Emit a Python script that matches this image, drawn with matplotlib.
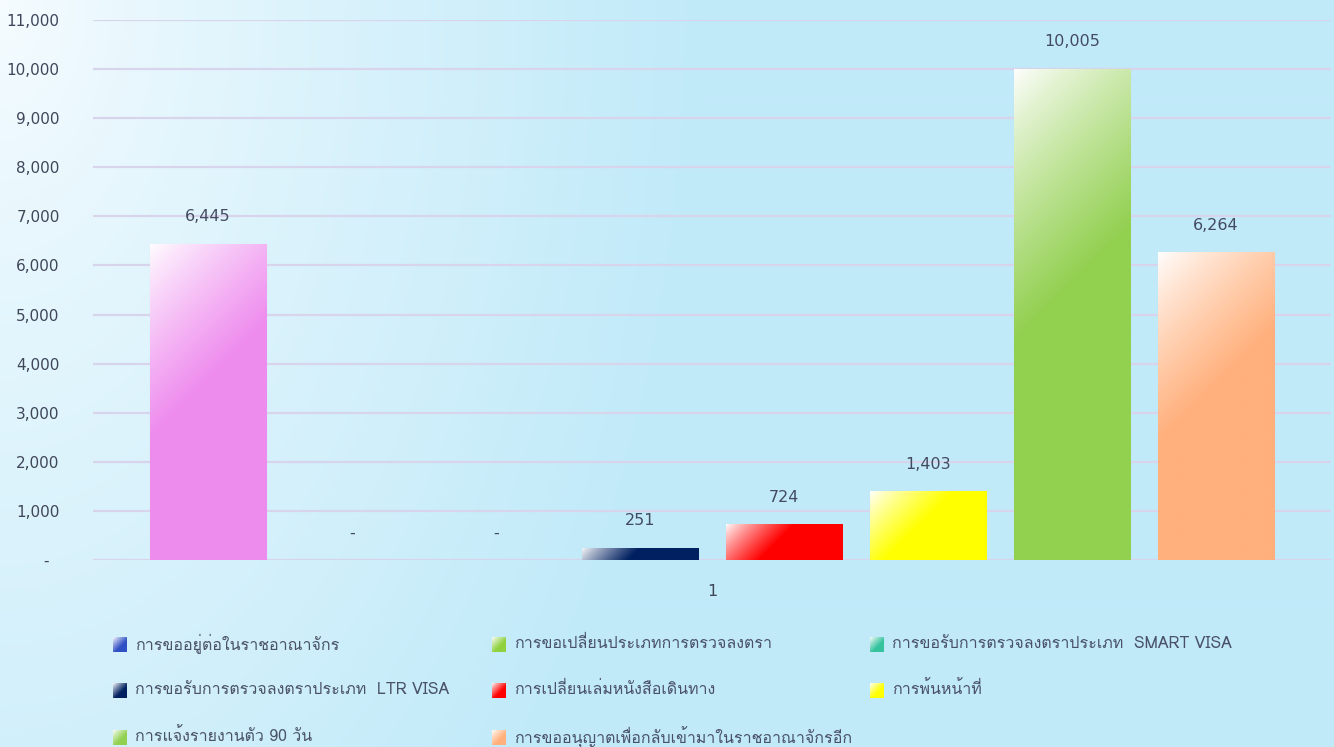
import numpy as np
import matplotlib
matplotlib.use("Agg")
import matplotlib.pyplot as plt
import matplotlib.colors as mcolors
from matplotlib import font_manager
from matplotlib.ft2font import FT2Font

# ---------------- data ----------------
categories = [
    "การขออยู่ต่อในราชอาณาจักร",
    "การขอเปลี่ยนประเภทการตรวจลงตรา",
    "การขอรับการตรวจลงตราประเภท  SMART VISA",
    "การขอรับการตรวจลงตราประเภท  LTR VISA",
    "การเปลี่ยนเล่มหนังสือเดินทาง",
    "การพ้นหน้าที่",
    "การแจ้งรายงานตัว 90 วัน",
    "การขออนุญาตเพื่อกลับเข้ามาในราชอาณาจักรอีก",
]
values = [6445, 0, 0, 251, 724, 1403, 10005, 6264]
bar_colors = ["#EE8CEE", "#8FD13F", "#35C39E", "#002060",
              "#FF0000", "#FFFF00", "#92D050", "#FFB07C"]
legend_colors = ["#3050C4", "#8FD13F", "#35C39E", "#002060",
                 "#FF0000", "#FFFF00", "#92D050", "#FFB07C"]
x_labels = ["1"]
y_ticks = [0, 1000, 2000, 3000, 4000, 5000, 6000, 7000, 8000, 9000, 10000, 11000]
y_tick_labels = ["-  ", "1,000", "2,000", "3,000", "4,000", "5,000", "6,000",
                 "7,000", "8,000", "9,000", "10,000", "11,000"]


# ---------------- fonts ----------------
def find_thai_font():
    for f in font_manager.fontManager.ttflist:
        try:
            cm = FT2Font(f.fname).get_charmap()
            if 0x0E01 in cm and 0x0E48 in cm:
                return f.name
        except Exception:
            pass
    return None


thai = find_thai_font()
families = ([thai] if thai else []) + ["DejaVu Sans"]
plt.rcParams["font.family"] = families

W, H = 1334, 747
fig = plt.figure(figsize=(W / 100, H / 100), dpi=100)

# background gradient
bg = fig.add_axes([0, 0, 1, 1], zorder=-10)
yy, xx = np.mgrid[0:H:2, 0:W:2]
t = np.clip(np.sqrt((xx / 700.0) ** 2 + (yy / 1150.0) ** 2), 0, 1) ** 0.85
c0 = np.array(mcolors.to_rgb("#F6FCFF"))
c1 = np.array(mcolors.to_rgb("#C1EAF9"))
img = c0[None, None, :] * (1 - t[..., None]) + c1[None, None, :] * t[..., None]
bg.imshow(img, extent=[0, 1, 0, 1], origin="upper", aspect="auto")
bg.axis("off")


def gradient_img(rgb, wpx, hpx, stop=0.45, n=220):
    u = np.linspace(0, 1, n)[None, :]
    v = np.linspace(0, 1, n)[:, None]
    tt = (u * wpx + v * hpx) / (wpx + hpx)
    s = np.clip(tt / stop, 0, 1) ** 0.85
    start = np.array([1.0, 1.0, 1.0])
    return start[None, None, :] * (1 - s[..., None]) + np.asarray(rgb)[None, None, :] * s[..., None]


# main axes
left, right = 93 / W, 1331 / W
bottom, top = 1 - 560 / H, 1 - 20 / H
ax = fig.add_axes([left, bottom, right - left, top - bottom])
ax.set_facecolor("none")

xpos = np.arange(len(values))
bw = 0.806
bars = ax.bar(xpos, values, width=bw, color=bar_colors, zorder=3,
              edgecolor=(0.6, 0.6, 0.65, 0.25), linewidth=0.8)

xlim = (-0.8, 7.8)
ylim = (0, 11000)
px_per_unit_x = (right - left) * W / (xlim[1] - xlim[0])
px_per_unit_y = (top - bottom) * H / (ylim[1] - ylim[0])

for b, c in zip(bars, bar_colors):
    h = b.get_height()
    if h <= 0:
        continue
    x0, w = b.get_x(), b.get_width()
    g = gradient_img(mcolors.to_rgb(c), w * px_per_unit_x, h * px_per_unit_y)
    im = ax.imshow(g, extent=[x0, x0 + w, 0, h], origin="upper",
                   aspect="auto", zorder=3.5, interpolation="bilinear")
    im.set_clip_path(b)

ax.set_xlim(*xlim)
ax.set_ylim(*ylim)

# data labels
label_color = "#434B60"
for x, v in zip(xpos, values):
    ax.annotate(f"{v:,}" if v else "-", xy=(x, v), xytext=(0, 19.5),
                textcoords="offset points", ha="center", va="center",
                fontsize=11.5, color=label_color, family=["DejaVu Sans"])

# axes styling
ax.set_yticks(y_ticks)
ax.set_yticklabels(y_tick_labels, family=["DejaVu Sans"])
ax.set_xticks([(len(values) - 1) / 2])
ax.set_xticklabels(x_labels, family=["DejaVu Sans"])
ax.tick_params(axis="y", length=0, pad=24, labelsize=11, labelcolor="#3F4659")
ax.tick_params(axis="x", length=0, pad=17, labelsize=11.5, labelcolor="#3F4659")
ax.yaxis.grid(True, color="#D8D4EC", linewidth=1.6, zorder=0)
ax.set_axisbelow(True)
for sp in ax.spines.values():
    sp.set_visible(False)

# legend (3 columns, row-major order)
col_x = [113, 492, 870]
row_y = [644, 690, 737]
for i, (name, col) in enumerate(zip(categories, legend_colors)):
    r, cidx = divmod(i, 3)
    mx, my = col_x[cidx], row_y[r]
    lax = fig.add_axes([mx / W, 1 - (my + 8) / H, 14 / W, 15 / H], zorder=5)
    lax.imshow(gradient_img(mcolors.to_rgb(col), 14, 15, stop=0.6, n=30),
               extent=[0, 1, 0, 1], origin="upper", aspect="auto",
               interpolation="bilinear")
    lax.axis("off")
    fig.text((mx + 22) / W, 1 - my / H, name, ha="left", va="center",
             fontsize=11.5, color="#4A5268")

fig.savefig("out.png", dpi=100)
